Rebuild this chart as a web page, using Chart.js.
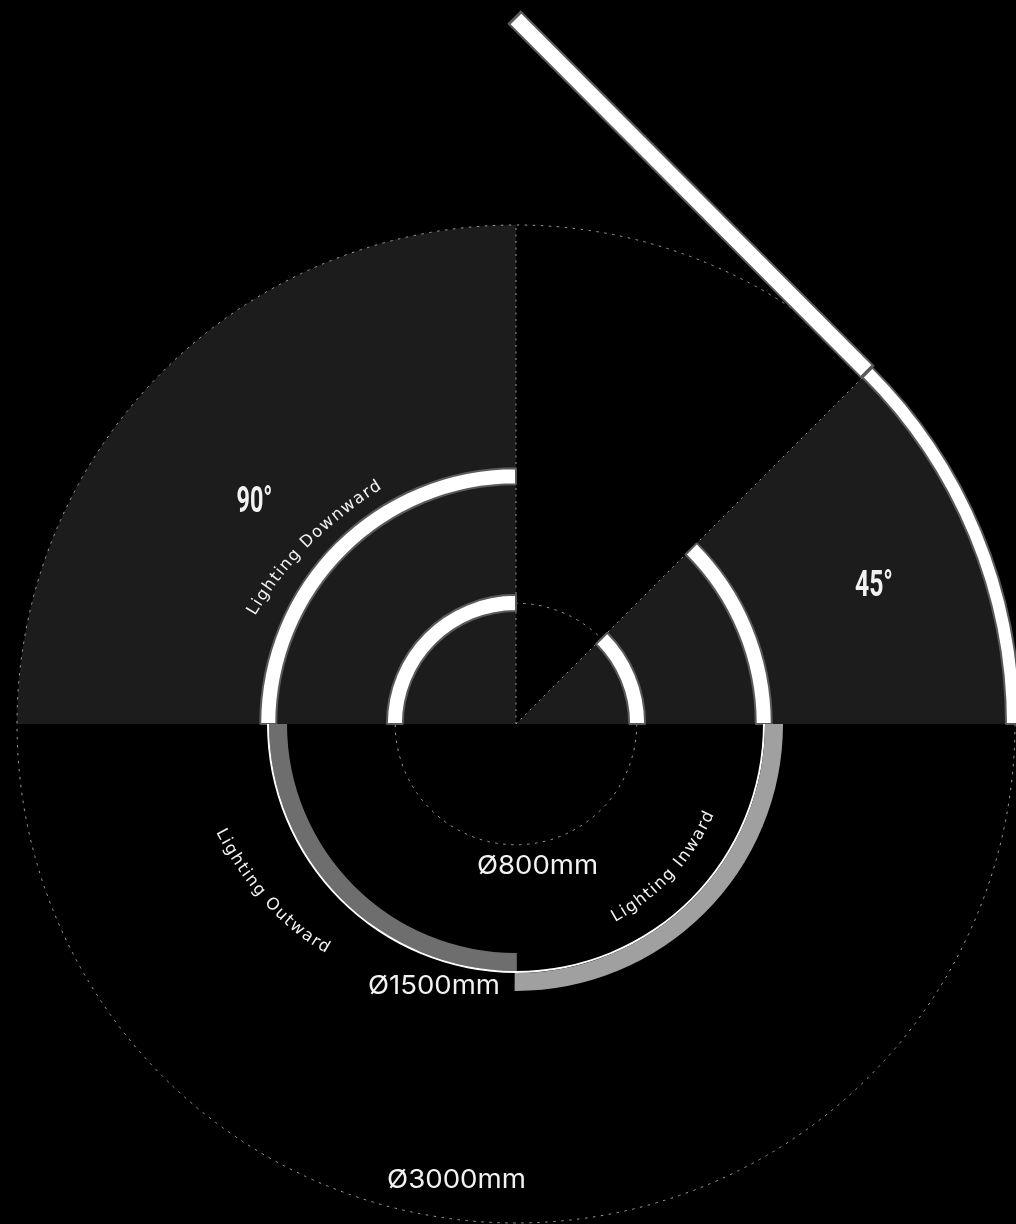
<!DOCTYPE html>
<html><head><meta charset="utf-8">
<script src="https://cdn.jsdelivr.net/npm/chart.js@4"></script>
<style>
html,body{margin:0;padding:0;background:#000;width:1016px;height:1224px;overflow:hidden}
canvas{position:absolute}
svg{position:absolute;left:0;top:0}
</style></head><body>
<svg id="labels" width="1016" height="1224" style="z-index:10"></svg>
<script>
// Angles are degrees clockwise from 12 o'clock; sizes in px radii
const sectorSpans   = [45, 45, 180, 90];
const sectorColors  = ['transparent', '#1c1c1c', 'transparent', '#1c1c1c'];
const outerSpans    = [45, 45, 270];
const outerColors   = ['transparent', '#ffffff', 'transparent'];
const outerBorders  = ['transparent', '#5a5a5a', 'transparent'];
const upperSpans    = [45, 45, 180, 90];
const upperColors   = ['transparent', '#ffffff', 'transparent', '#ffffff'];
const upperBorders  = ['transparent', '#5a5a5a', 'transparent', '#5a5a5a'];
const inwardSpans   = [90, 90.3, 179.7];
const inwardColors  = ['transparent', '#a0a0a0', 'transparent'];
const whiteSpans    = [90, 180, 90];
const whiteColors   = ['transparent', '#ffffff', 'transparent'];
const outwardSpans  = [179.8, 90.2, 90];
const outwardColors = ['transparent', '#6e6e6e', 'transparent'];
const gridRadiiMm   = [0, 363, 1500];
const armOuter      = [{x:1056,y:1055},{x:-6,y:2121}];
const armInner      = [{x:1050,y:1061},{x:0,y:2115}];
const dashUp        = [{x:0,y:0},{x:0,y:1497}];
const dashDiagonal  = [{x:0,y:0},{x:1050,y:1050}];
const sizeLabels    = ['Ø800mm','Ø1500mm','Ø3000mm'];
const angleLabels   = ['90°','45°'];
const curveLabels   = ['Lighting Downward','Lighting Inward','Lighting Outward'];

const S = 1100, CX = 516, CY = 724;
function layer(w,h,l,t){
  const c=document.createElement('canvas');
  c.width=w;c.height=h;c.style.width=w+'px';c.style.height=h+'px';c.style.left=l+'px';c.style.top=t+'px';
  document.body.appendChild(c);return c;
}
const base={responsive:false,animation:false,devicePixelRatio:1,plugins:{legend:{display:false},tooltip:{enabled:false}}};
function ring(radius,datasets){
  return new Chart(layer(S,S,CX-S/2,CY-S/2),{type:'doughnut',
    data:{labels:datasets[0].data.map((_,i)=>String(i)),datasets},
    options:{...base,radius,cutout:0,layout:{padding:0}}});
}
const gap=w=>({data:[360],backgroundColor:'transparent',borderWidth:0,weight:w});

// dark sectors
ring(499,[{data:sectorSpans,backgroundColor:sectorColors,borderWidth:0}]);

// dotted circles
new Chart(layer(S,S,CX-S/2,CY-S/2),{type:'radar',
  data:{labels:['','','',''],datasets:[{data:[],pointRadius:0,borderWidth:0}]},
  options:{...base,layout:{padding:S/2-499},scales:{r:{min:0,max:1500,
    afterBuildTicks:a=>{a.ticks=gridRadiiMm.map(value=>({value}));},
    ticks:{display:false},pointLabels:{display:false},angleLines:{display:false},
    border:{dash:[2.5,5.5]},
    grid:{circular:true,color:'#a0a0a0',lineWidth:1,borderDash:[2.5,5.5]}}}}});

// dotted radii and the straight arm (3 units = 1 px); earlier datasets draw on top
new Chart(layer(1016,1224,0,0),{type:'scatter',
  data:{datasets:[
    {data:armInner,showLine:true,pointRadius:0,borderColor:'#ffffff',borderWidth:15},
    {data:armOuter,showLine:true,pointRadius:0,borderColor:'#5a5a5a',borderWidth:19},
    {data:dashUp,showLine:true,pointRadius:0,borderColor:'#969696',borderWidth:1,borderDash:[2,4.5]},
    {data:dashDiagonal,showLine:true,pointRadius:0,borderColor:'#969696',borderWidth:1,borderDash:[2,4.5]}
  ]},
  options:{...base,layout:{padding:0},scales:{
    x:{type:'linear',display:false,min:-1548,max:1500},
    y:{type:'linear',display:false,min:-1500,max:2172}}}});

// upper white arcs with grey edges
const upper=()=>({data:upperSpans,backgroundColor:upperColors,borderColor:upperBorders,borderWidth:2});
ring(504,[{data:outerSpans,backgroundColor:outerColors,borderColor:outerBorders,borderWidth:2,weight:14},gap(234),{...upper(),weight:16},gap(110.5),{...upper(),weight:16},gap(113)]);

// lower arcs
ring(267,[
  {data:inwardSpans,backgroundColor:inwardColors,borderWidth:0,weight:18},
  {data:whiteSpans,backgroundColor:whiteColors,borderWidth:0,weight:2},
  {data:outwardSpans,backgroundColor:outwardColors,borderWidth:0,weight:18},
  gap(229)]);

// text
const NS='http://www.w3.org/2000/svg', svg=document.getElementById('labels');
function el(n,a,t){const e=document.createElementNS(NS,n);for(const k in a)e.setAttribute(k,a[k]);if(t)e.textContent=t;svg.appendChild(e);return e;}
function txt(s,x,y,len,size,fam,weight){
  el('text',{x,y,fill:'#f2f2f2','font-family':fam,'font-size':size,'font-weight':weight||400,textLength:len,lengthAdjust:'spacingAndGlyphs'},s);
}
const SANS='Inter, "DejaVu Sans", sans-serif', WIDE='"DejaVu Sans", sans-serif', NARROW='"Liberation Sans Narrow", Roboto, sans-serif';
txt(sizeLabels[0],477,874,121,26,SANS);
txt(sizeLabels[1],368,994,132,26,SANS);
txt(sizeLabels[2],387,1188,139,26,SANS);
txt(angleLabels[0],236.5,511.5,36,36,NARROW,700);
txt(angleLabels[1],855,596,38,36,NARROW,700);
function curve(id,s,d,len){
  const defs=el('defs',{});
  const p=document.createElementNS(NS,'path');
  p.setAttribute('id',id);p.setAttribute('d',d);defs.appendChild(p);
  const t=el('text',{fill:'#f2f2f2','font-family':WIDE,'font-size':16.5});
  const tp=document.createElementNS(NS,'textPath');
  tp.setAttribute('href','#'+id);tp.setAttribute('textLength',len);tp.setAttribute('lengthAdjust','spacing');tp.textContent=s;t.appendChild(tp);
}
curve('c1',curveLabels[0],'M255 616Q298.5 541.5 381 489',182);
curve('c2',curveLabels[1],'M615 922Q683 884 714 814',149);
curve('c3',curveLabels[2],'M216 832Q263 922 334 957',166);
</script>
</body></html>
